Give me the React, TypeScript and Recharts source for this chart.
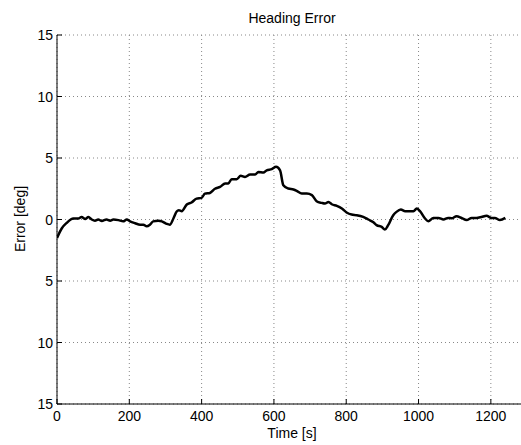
import React from 'react'
import { LineChart, Line, XAxis, YAxis, CartesianGrid } from 'recharts'

const times = [
  0, 13, 27, 45, 59, 68, 78, 87, 96, 105, 114, 124, 137, 147, 156, 170, 183, 193, 202, 216,
  230, 239, 248, 257, 266, 280, 290, 303, 312, 322, 331, 337, 345, 359, 372, 386, 400, 409,
  423, 437, 451, 465, 474, 483, 497, 508, 520, 534, 548, 557, 571, 580, 594, 606, 617, 626,
  640, 654, 663, 677, 691, 705, 718, 732, 741, 751, 760, 774, 788, 801, 815, 829, 847, 861,
  875, 884, 898, 907, 916, 930, 939, 951, 963, 976, 986, 995, 1004, 1018, 1027, 1041, 1055,
  1069, 1082, 1092, 1105, 1119, 1133, 1147, 1160, 1174, 1188, 1202, 1211, 1225, 1240,
]

const errors = [
  -1.5, -0.73, -0.27, 0.08, 0.08, 0.2, 0.05, 0.2, 0, -0.1, 0, -0.12, 0, -0.1, 0, -0.05,
  -0.15, 0, -0.15, -0.3, -0.42, -0.42, -0.55, -0.42, -0.15, -0.1, -0.15, -0.35, -0.42, 0.08,
  0.65, 0.75, 0.68, 1.22, 1.38, 1.7, 1.76, 2.1, 2.16, 2.5, 2.65, 2.93, 2.93, 3.28, 3.28, 3.55,
  3.46, 3.66, 3.66, 3.87, 3.82, 4.0, 4.09, 4.28, 4.0, 2.79, 2.52, 2.44, 2.33, 2.11, 2.11, 1.98,
  1.49, 1.35, 1.3, 1.43, 1.24, 1.11, 0.89, 0.57, 0.4, 0.35, 0.21, 0, -0.22, -0.46, -0.6,
  -0.81, -0.46, 0.35, 0.62, 0.81, 0.68, 0.68, 0.68, 0.89, 0.68, 0.08, -0.14, 0.13, 0.13, 0,
  0.13, 0.1, 0.27, 0.13, -0.05, 0.13, 0.13, 0.2, 0.3, 0.13, 0.13, -0.05, 0.13,
]

const xTicks = [0, 200, 400, 600, 800, 1000, 1200]
const yTicks = [-15, -10, -5, 0, 5, 10, 15]

const data = times.map((t, i) => ({ t, e: errors[i] }))

const font = 'Liberation Sans, Arial, sans-serif'

function BottomTick({ x, y, payload }: any) {
  return (
    <g>
      <line x1={x} y1={y} x2={x} y2={y - 5} stroke="#000" />
      <text x={x} y={y + 17} textAnchor="middle" fontSize={14} fontFamily={font} fill="#000">
        {payload.value}
      </text>
    </g>
  )
}

function TopTick({ x, y }: any) {
  return <line x1={x} y1={y} x2={x} y2={y + 5} stroke="#000" />
}

function LeftTick({ x, y, payload }: any) {
  return (
    <g>
      <line x1={x} y1={y} x2={x + 5} y2={y} stroke="#000" />
      <text x={x - 4} y={y + 5} textAnchor="end" fontSize={14} fontFamily={font} fill="#000">
        {Math.abs(payload.value)}
      </text>
    </g>
  )
}

const textStyle: React.CSSProperties = {
  position: 'absolute',
  left: 0,
  width: 584,
  textAlign: 'center',
  fontFamily: font,
  fontSize: 14,
  lineHeight: '14px',
  color: '#000',
  zIndex: 2,
}

export default function App() {
  return (
    <div style={{ position: 'fixed', left: 0, top: 0, width: 521, height: 445, overflow: 'hidden', background: '#fff' }}>
      <div style={{ ...textStyle, top: 11 }}>Heading Error</div>
      <div style={{ ...textStyle, top: 426 }}>Time [s]</div>
      <div
        style={{
          ...textStyle,
          width: 120,
          left: 20 - 60,
          top: 219 - 7,
          transform: 'rotate(-90deg)',
        }}
      >
        Error [deg]
      </div>
      <LineChart
        width={560}
        height={445}
        data={data}
        margin={{ top: 35, right: 33, bottom: 0, left: 0 }}
      >
        <CartesianGrid stroke="#888" strokeDasharray="1 3" horizontal vertical />
        <XAxis
          dataKey="t"
          type="number"
          domain={[0, 1300]}
          ticks={xTicks}
          allowDataOverflow
          height={41}
          tickSize={0}
          tickMargin={0}
          tickLine={false}
          axisLine={{ stroke: '#000' }}
          tick={<BottomTick />}
        />
        <XAxis
          xAxisId="top"
          orientation="top"
          dataKey="t"
          type="number"
          domain={[0, 1300]}
          ticks={xTicks}
          allowDataOverflow
          height={0}
          tickSize={0}
          tickMargin={0}
          tickLine={false}
          axisLine={{ stroke: '#000' }}
          tick={<TopTick />}
        />
        <YAxis
          type="number"
          domain={[-15, 15]}
          ticks={yTicks}
          width={57}
          tickSize={0}
          tickMargin={0}
          tickLine={false}
          axisLine={{ stroke: '#000' }}
          tick={<LeftTick />}
        />
        <Line
          type="monotone"
          dataKey="e"
          stroke="#000"
          strokeWidth={2.5}
          dot={false}
          isAnimationActive={false}
        />
      </LineChart>
    </div>
  )
}
